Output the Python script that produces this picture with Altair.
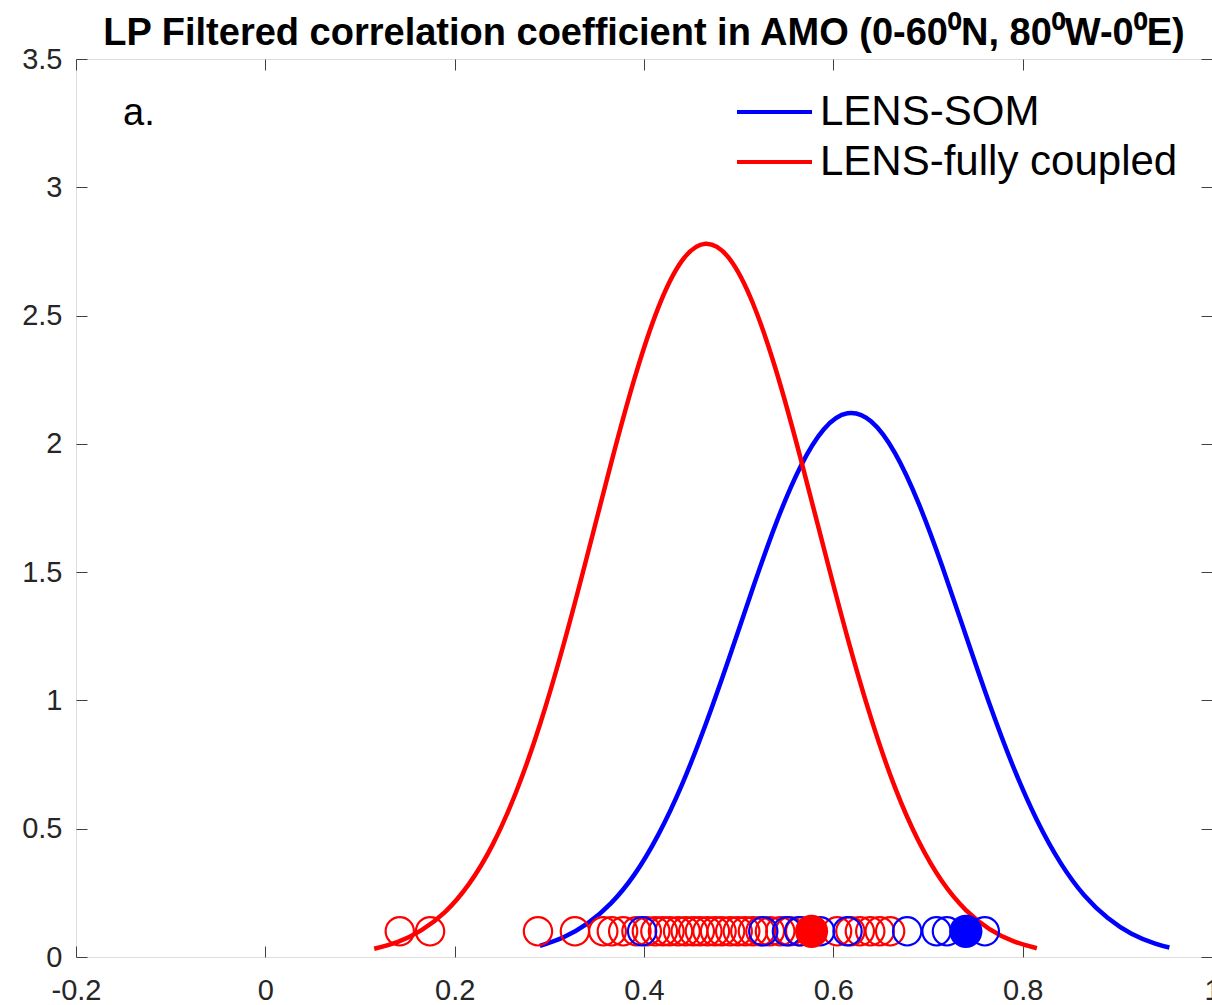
import altair as alt
import pandas as pd

# ---------------- data ----------------
series_names = ["LENS-SOM", "LENS-fully coupled"]
series_colors = ["#0000ff", "#ff0000"]

# fitted PDF curves
som_x = [0.29, 0.315, 0.34, 0.365, 0.39, 0.415, 0.44, 0.465, 0.49, 0.515,
         0.54, 0.565, 0.59, 0.615, 0.64, 0.665, 0.69, 0.715, 0.74, 0.765,
         0.79, 0.815, 0.84, 0.865, 0.89, 0.915, 0.94, 0.955]
som_y = [0.043, 0.077, 0.130, 0.209, 0.322, 0.476, 0.671, 0.905, 1.166, 1.438,
         1.695, 1.909, 2.057, 2.119, 2.087, 1.965, 1.769, 1.523, 1.253, 0.986,
         0.742, 0.534, 0.367, 0.241, 0.152, 0.091, 0.052, 0.037]

fc_x = [0.115, 0.14, 0.165, 0.19, 0.215, 0.24, 0.265, 0.29, 0.315, 0.34,
        0.365, 0.39, 0.415, 0.44, 0.465, 0.49, 0.515, 0.54, 0.565, 0.59,
        0.615, 0.64, 0.665, 0.69, 0.715, 0.74, 0.765, 0.79, 0.815]
fc_y = [0.032, 0.059, 0.105, 0.176, 0.284, 0.437, 0.644, 0.905, 1.217, 1.564,
        1.921, 2.255, 2.530, 2.713, 2.780, 2.723, 2.548, 2.280, 1.949, 1.593,
        1.244, 0.929, 0.662, 0.452, 0.294, 0.183, 0.109, 0.062, 0.034]

# ensemble members (open circles)
fc_members = [0.142, 0.174, 0.288, 0.327, 0.357, 0.366, 0.378, 0.392, 0.403,
              0.412, 0.420, 0.427, 0.436, 0.444, 0.452, 0.459, 0.467, 0.475,
              0.482, 0.491, 0.499, 0.507, 0.515, 0.523, 0.533, 0.544, 0.554,
              0.565, 0.604, 0.618, 0.628, 0.639, 0.649, 0.660]
som_members = [0.398, 0.526, 0.551, 0.564, 0.586, 0.615, 0.678, 0.709,
               0.720, 0.760]
# observed / reference values (filled circles)
fc_obs = [0.577]
som_obs = [0.740]
marker_level = 0.1

x_ticks = [-0.2, 0, 0.2, 0.4, 0.6, 0.8, 1.0]
y_ticks = [0, 0.5, 1, 1.5, 2, 2.5, 3, 3.5]
panel_label = ["a."]
title_text = "LP Filtered correlation coefficient in AMO (0-60\u2070N, 80\u2070W-0\u2070E)"

# ---------------- tables ----------------
curves = pd.concat([
    pd.DataFrame({"x": som_x, "y": som_y, "series": series_names[0]}),
    pd.DataFrame({"x": fc_x, "y": fc_y, "series": series_names[1]}),
])
fc_pts = pd.DataFrame({"x": fc_members, "y": marker_level})
som_pts = pd.DataFrame({"x": som_members, "y": marker_level})
fc_obs_df = pd.DataFrame({"x": fc_obs, "y": marker_level})
som_obs_df = pd.DataFrame({"x": som_obs, "y": marker_level})

W, H = 1136, 898
FONT = "Liberation Sans"
TICK = "#404040"
xs = alt.Scale(domain=[-0.2, 1.0], nice=False, zero=False)
ys = alt.Scale(domain=[0, 3.5], nice=False, zero=False)
xlab = "datum.value < 0 ? '-' + format(-datum.value, '~g') : format(datum.value, '~g')"


def tick_axis(orient, offset, values):
    return alt.Axis(orient=orient, offset=offset, values=values, labels=False,
                    ticks=True, tickSize=11, tickColor=TICK, tickWidth=1,
                    domain=False, grid=False, title=None)


lines = alt.Chart(curves).mark_line(strokeWidth=4.5, interpolate="natural").encode(
    x=alt.X("x:Q", scale=xs, axis=alt.Axis(
        orient="bottom", values=x_ticks, labelExpr=xlab, ticks=False,
        domain=False, grid=False, title=None, labelFontSize=29, labelFont=FONT,
        labelColor="#262626", labelPadding=19, labelFlush=False,
        labelOverlap=False, labelBound=False)),
    y=alt.Y("y:Q", scale=ys, axis=alt.Axis(
        orient="left", values=y_ticks, format="~g", ticks=False,
        domain=False, grid=False, title=None, labelFontSize=29, labelFont=FONT,
        labelColor="#262626", labelPadding=14, labelFlush=False)),
    color=alt.Color("series:N", scale=alt.Scale(domain=series_names, range=series_colors),
                    legend=alt.Legend(title=None, orient="none", legendX=659, legendY=28,
                                      symbolType="stroke", symbolSize=5625,
                                      symbolStrokeWidth=4, labelFontSize=42,
                                      labelFont=FONT, labelColor="black",
                                      labelOffset=6, labelLimit=1000,
                                      clipHeight=50, rowPadding=0, padding=0)),
)

fc_open = alt.Chart(fc_pts).mark_point(shape="circle", filled=False, size=800,
                                       strokeWidth=2.2, color="#ff0000", opacity=1).encode(
    x=alt.X("x:Q", scale=xs, axis=tick_axis("top", -H, x_ticks)),
    y=alt.Y("y:Q", scale=ys, axis=tick_axis("right", -W, y_ticks)),
)
som_open = alt.Chart(som_pts).mark_point(shape="circle", filled=False, size=800,
                                         strokeWidth=2.2, color="#0000ff", opacity=1).encode(
    x=alt.X("x:Q", scale=xs, axis=tick_axis("bottom", -H, x_ticks)),
    y=alt.Y("y:Q", scale=ys, axis=tick_axis("left", -W, y_ticks)),
)
fc_fill = alt.Chart(fc_obs_df).mark_point(shape="circle", filled=True, size=1100,
                                          color="#ff0000", opacity=1).encode(
    x=alt.X("x:Q", scale=xs, axis=None), y=alt.Y("y:Q", scale=ys, axis=None))
som_fill = alt.Chart(som_obs_df).mark_point(shape="circle", filled=True, size=1100,
                                            color="#0000ff", opacity=1).encode(
    x=alt.X("x:Q", scale=xs, axis=None), y=alt.Y("y:Q", scale=ys, axis=None))

label = alt.Chart(pd.DataFrame({"t": panel_label})).mark_text(
    align="left", baseline="alphabetic", fontSize=38, font=FONT, color="black").encode(
    text="t:N", x=alt.value(47), y=alt.value(66))

chart = alt.layer(lines, fc_open, som_open, fc_fill, som_fill, label).resolve_axis(
    x="independent", y="independent"
).properties(
    width=W, height=H,
    title=alt.Title(title_text, fontSize=38, font=FONT, fontWeight="bold",
                    anchor="middle", frame="group", offset=0, dy=38,
                    baseline="alphabetic", color="black"),
    autosize=alt.AutoSizeParams(type="none"),
    padding={"left": 76, "top": 59, "right": 0, "bottom": 48},
).configure_view(stroke="#262626", strokeWidth=1).configure(background="white")

chart.save("out.html", embed_options={"renderer": "svg", "actions": False})
